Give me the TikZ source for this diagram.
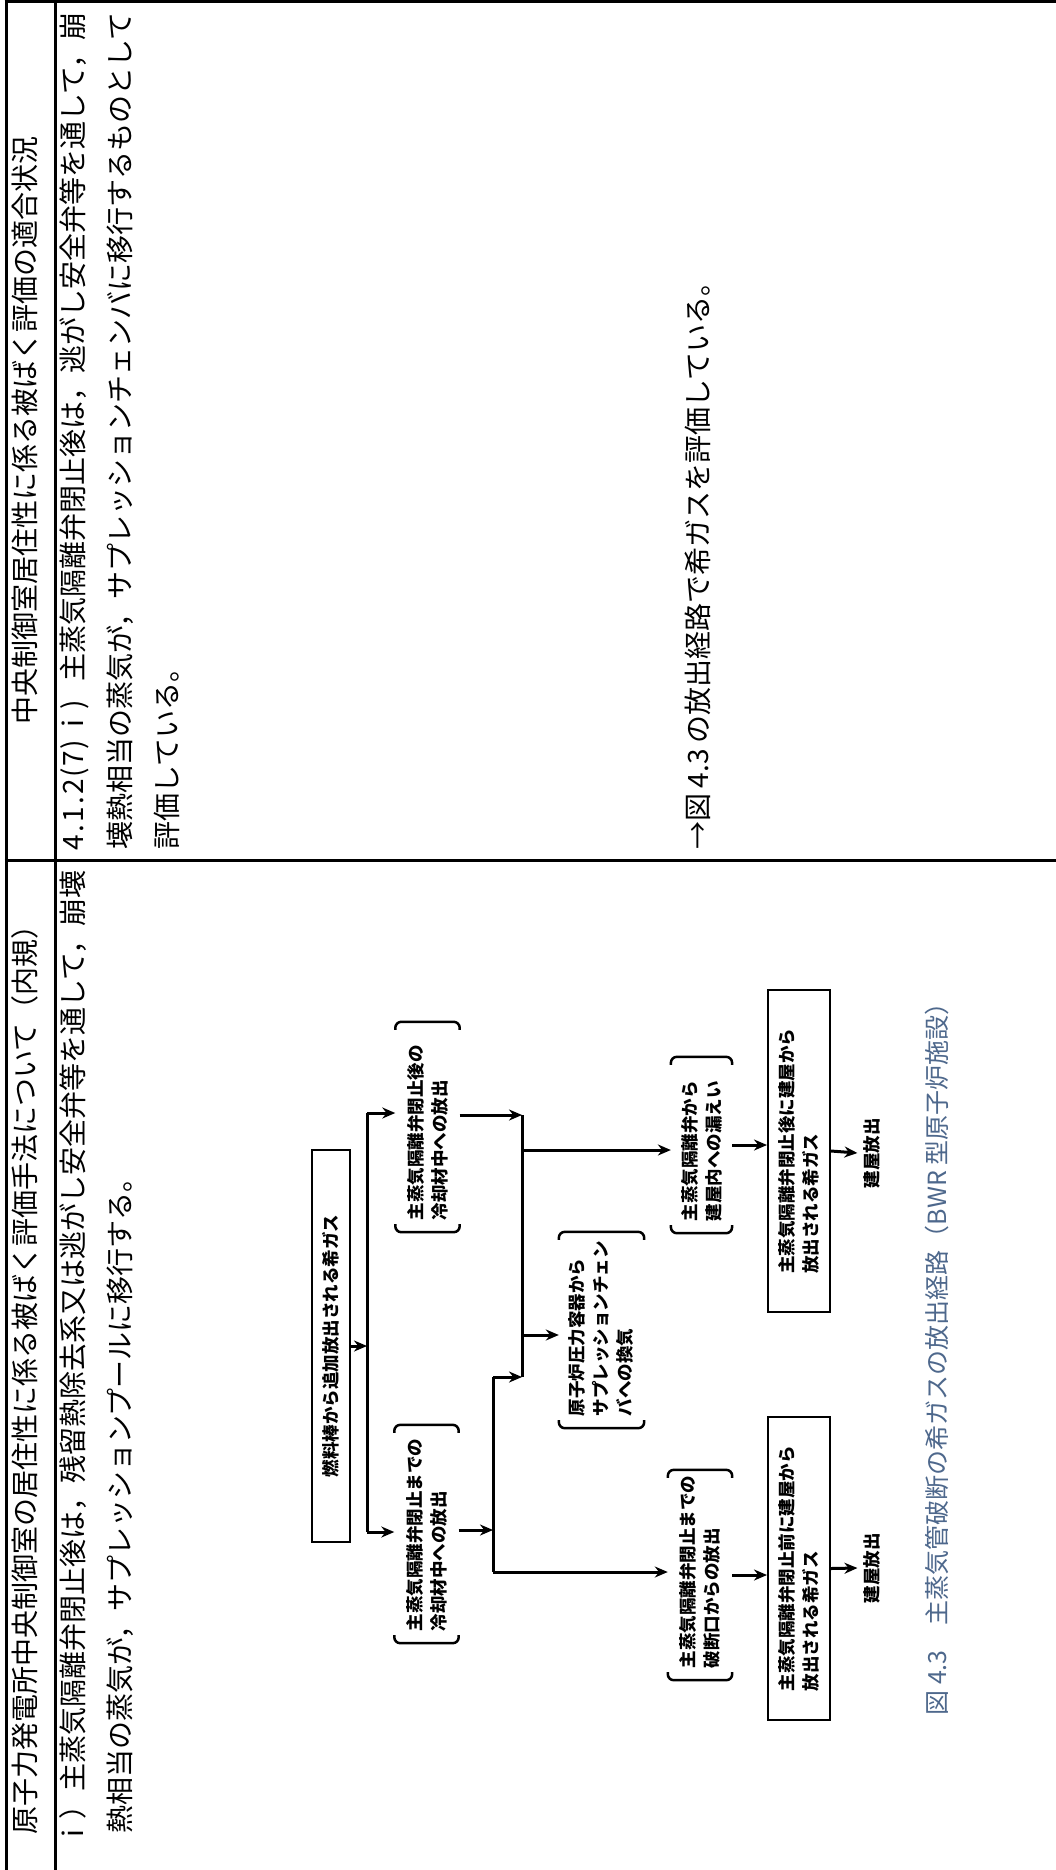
\documentclass[tikz,border=0pt]{standalone}
\usepackage{fontspec}
\setmainfont{Noto Sans CJK JP}
\usetikzlibrary{calc}
\usetikzlibrary{positioning}
\usetikzlibrary{arrows.meta}
\definecolor{capblue}{RGB}{78,104,140}
\newcommand{\hw}[1]{\makebox[0.5em]{#1}}
\tikzset{
    tline/.style={
        line width=3pt      % 表格线
    },
    bodytext/.style={
        rotate=90,          % 整页横置, 文字逆时针转
        anchor=west,
        inner sep=0,
        text height=0.88em,
        text depth=0.12em,
        font=\fontsize{28}{28}\selectfont
    },
    figtext/.style={
        rotate=90,
        inner sep=0,
        font=\fontsize{17.5}{24}\selectfont\bfseries
    },
    boxnode/.style={
        figtext,
        draw,
        line width=2pt,
        align=left
    },
    brnode/.style={
        figtext,
        align=left,
        inner xsep=12pt,    % 括号与文字的间距
        inner ysep=10pt
    },
    arr/.style={
        line width=3pt,
        -{Stealth[length=13pt,width=11pt]}
    },
    brline/.style={
        line width=2.5pt,
        rounded corners=6pt
    }
}
\begin{document}
\begin{tikzpicture}[x=1pt, y=-1pt]
\useasboundingbox (0,0) rectangle (1056,1870);
\fill[white] (0,0) rectangle (1056,1870);

\def\lA{80}
\def\lB{127}
\def\lC{174}

% 表格线
\draw[tline] (6,0) -- (6,1870);
\draw[tline] (55,0) -- (55,1870);
\draw[tline] (4.5,1.5) -- (1056,1.5);
\draw[tline] (4.5,860) -- (1056,860);

% 表头
\node[bodytext, anchor=center] (headL) at (32,1373) {原子力発電所中央制御室の居住性に係る被ばく評価手法について（内規）};
\node[bodytext, anchor=center] (headR) at (32,430) {中央制御室居住性に係る被ばく評価の適合状況};

% 左栏
\node[bodytext] (bodyL1) at (\lA,1848) {\makebox[1em]{ⅰ}）主蒸気隔離弁閉止後は，残留熱除去系又は逃がし安全弁等を通して，崩壊};
\node[bodytext] (bodyL2) at (\lB,1834) {熱相当の蒸気が，サプレッションプールに移行する。};

% 右栏
\node[bodytext] (bodyR1) at (\lA,850) {\hw4\hw.\hw1\hw.\hw2\hw(\hw7\hw)\makebox[1em]{ⅰ}\makebox[1em][l]{)}主蒸気隔離弁閉止後は，逃がし安全弁等を通して，崩};
\node[bodytext] (bodyR2) at (\lB,850) {壊熱相当の蒸気が，サプレッションチェンバに移行するものとして};
\node[bodytext] (bodyR3) at (\lC,850) {評価している。};
\node[bodytext] (bodyR4) at (705,850) {→図\makebox[1.8em]{4.3}の放出経路で希ガスを評価している。};

% 定义点
\coordinate (Pfuel) at (331,1346);
\coordinate (Pafter) at (427.5,1127);
\coordinate (Pbefore) at (426.5,1534);
\coordinate (Prpv) at (601.5,1330);
\coordinate (Pleak) at (701.5,1145);
\coordinate (Pbrk) at (700,1575);
\coordinate (PgasA) at (799,1151);
\coordinate (PgasB) at (799,1568.5);
\coordinate (PoutA) at (872,1153);
\coordinate (PoutB) at (872,1568);
\coordinate (Pcap) at (937,1353);

% 分支点
\coordinate (J1t) at (367,1113);
\coordinate (J1b) at (367,1532);
\coordinate (J2t) at (522,1115);
\coordinate (J2a) at (522,1150);
\coordinate (J2r) at (522,1335);
\coordinate (J2b) at (522,1377);
\coordinate (J3t) at (493,1377);
\coordinate (J3m) at (493,1530);
\coordinate (J3b) at (493,1572);

% 图 4.3
\node[boxnode, minimum width=392pt, minimum height=38pt] (fuel) at (Pfuel) {燃料棒から追加放出される希ガス};
\node[brnode, text width=186pt, minimum height=64pt] (after) at (Pafter) {主蒸気隔離弁閉止後の\\冷却材中への放出};
\node[brnode, text width=194pt, minimum height=64pt] (before) at (Pbefore) {主蒸気隔離弁閉止までの\\冷却材中への放出};
\node[brnode, text width=172pt, minimum height=84pt] (rpv) at (Prpv) {原子炉圧力容器から\\サプレッションチェン\\バへの換気};
\node[brnode, text width=152pt, minimum height=58pt] (leak) at (Pleak) {主蒸気隔離弁から\\建屋内への漏えい};
\node[brnode, text width=186pt, minimum height=64pt] (brk) at (Pbrk) {主蒸気隔離弁閉止までの\\破断口からの放出};
\node[boxnode, minimum width=322pt, minimum height=62pt] (gasA) at (PgasA) {主蒸気隔離弁閉止後に建屋から\\放出される希ガス};
\node[boxnode, minimum width=303pt, minimum height=62pt] (gasB) at (PgasB) {主蒸気隔離弁閉止前に建屋から\\放出される希ガス};
\node[figtext, inner sep=6pt] (outA) at (PoutA) {建屋放出};
\node[figtext, inner sep=6pt] (outB) at (PoutB) {建屋放出};

\foreach \n in {after,before,rpv,leak,brk}{
    \draw[brline] ($(\n.north west)!8pt!(\n.north east)$) -- (\n.north west) -- (\n.south west) -- ($(\n.south west)!8pt!(\n.south east)$);
    \draw[brline] ($(\n.north east)!8pt!(\n.north west)$) -- (\n.north east) -- (\n.south east) -- ($(\n.south east)!8pt!(\n.south west)$);
}

\draw[arr] (fuel.south) -- (fuel.south -| J1t);
\draw[line width=3pt] (J1t) -- (J1b);
\draw[arr] (J1t) -- (J1t -| after.north);
\draw[arr] (J1b) -- (J1b -| before.north);
\draw[arr] (after.south |- J2t) -- (J2t);
\draw[arr] (before.south |- J3m) -- (J3m);
\draw[line width=3pt] (J2t) -- (J2b);
\draw[line width=3pt] (J3t) -- (J3b);
\draw[arr] (J3t) -- (J2b);
\draw[arr] (J2a) -- (J2a -| leak.north);
\draw[arr] (J2r) -- (J2r -| rpv.north);
\draw[arr] (J3b) -- (J3b -| brk.north);
\draw[arr] (leak.south) -- (leak.south -| gasA.north);
\draw[arr] (brk.south) -- (brk.south -| gasB.north);
\draw[arr] (gasA.south) -- (outA.north);
\draw[arr] (gasB.south) -- (outB.north);

\node[rotate=90, inner sep=0, text=capblue, font=\fontsize{25}{25}\selectfont] (cap) at (Pcap) {図 4.3　主蒸気管破断の希ガスの放出経路（BWR 型原子炉施設）};

\end{tikzpicture}
\end{document}
